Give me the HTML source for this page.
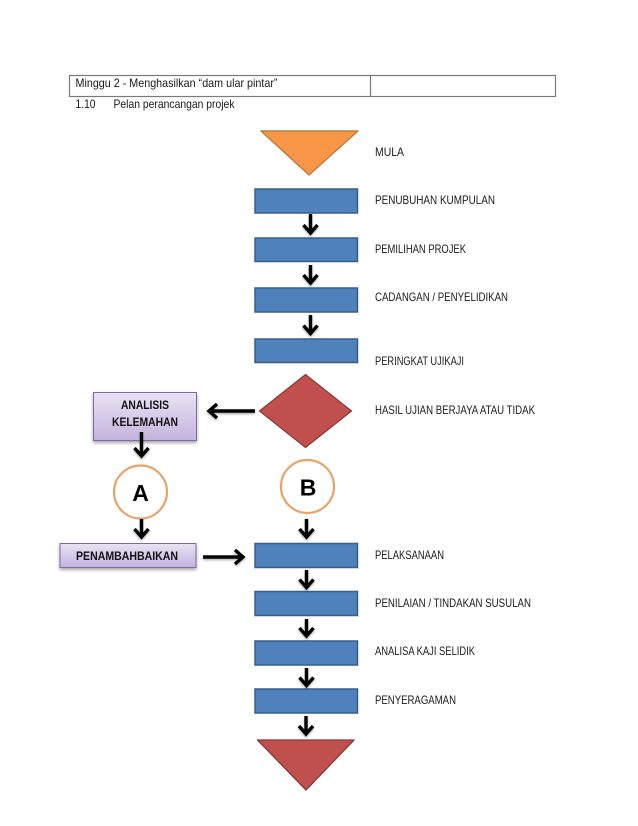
<!DOCTYPE html>
<html>
<head>
<meta charset="utf-8">
<style>
html,body{margin:0;padding:0;background:#fff;}
svg{display:block;}
text{font-family:"Liberation Sans",sans-serif;fill:#1a1a1a;}
.l{font-size:11.8px;}
.b{font-weight:bold;font-size:12px;fill:#111;}
.box{fill:#4f81bd;stroke:#385d8a;stroke-width:1.5;}
.p{fill:url(#pg);stroke:#7f69a5;stroke-width:1;filter:url(#sh);}
.c{fill:#fff;stroke:#e8a468;stroke-width:2.2;}
.a{fill:none;stroke:#000;stroke-width:3.4;filter:url(#sh2);}
</style>
</head>
<body>
<svg width="638" height="826" viewBox="0 0 638 826" xmlns="http://www.w3.org/2000/svg">
<defs>
<linearGradient id="pg" x1="0" y1="0" x2="0" y2="1">
<stop offset="0" stop-color="#e9e3f3"/>
<stop offset="1" stop-color="#c3b3de"/>
</linearGradient>
<filter id="sh" x="-10%" y="-20%" width="120%" height="150%">
<feDropShadow dx="0" dy="2" stdDeviation="1.5" flood-color="#000" flood-opacity="0.35"/>
</filter>
<filter id="sh2" x="-50%" y="-50%" width="200%" height="200%">
<feDropShadow dx="0" dy="1.5" stdDeviation="1" flood-color="#000" flood-opacity="0.3"/>
</filter>
</defs>
<rect width="638" height="826" fill="#fff"/>

<!-- header table -->
<rect x="69.5" y="75.5" width="486" height="21" fill="#fff" stroke="#7a7a7a" stroke-width="1.2"/>
<line x1="370.5" y1="75.5" x2="370.5" y2="96.5" stroke="#7a7a7a" stroke-width="1.2"/>
<text x="75.5" y="87" class="l" textLength="202" lengthAdjust="spacingAndGlyphs">Minggu 2 - Menghasilkan “dam ular pintar”</text>
<text x="75.5" y="108" class="l" textLength="20" lengthAdjust="spacingAndGlyphs">1.10</text>
<text x="113.5" y="108" class="l" textLength="121" lengthAdjust="spacingAndGlyphs">Pelan perancangan projek</text>

<!-- main shapes -->
<polygon points="261,131 358,131 309,175" fill="#f79646" stroke="#b9803f" stroke-width="1.5" stroke-linejoin="round"/>
<rect class="box" x="255" y="189" width="102.5" height="24"/>
<rect class="box" x="255" y="238" width="102.5" height="23.5"/>
<rect class="box" x="255" y="288" width="102.5" height="24"/>
<rect class="box" x="255" y="339" width="102.5" height="23.5"/>
<polygon points="259.5,411 305.5,374.5 351.5,411 305.5,447.5" fill="#c0504d" stroke="#8c3836" stroke-width="1.2"/>
<rect class="box" x="255" y="543.5" width="102.5" height="24"/>
<rect class="box" x="255" y="591.5" width="102.5" height="24"/>
<rect class="box" x="255" y="641" width="102.5" height="24"/>
<rect class="box" x="255" y="689" width="102.5" height="24"/>
<polygon points="257.5,740 354,740 306,790" fill="#c0504d" stroke="#8c3836" stroke-width="1.3" stroke-linejoin="round"/>

<!-- purple boxes -->
<rect class="p" x="93.5" y="392.5" width="103" height="48"/>
<rect class="p" x="60" y="543.5" width="136" height="24"/>
<text x="145" y="409" class="b" text-anchor="middle" textLength="48" lengthAdjust="spacingAndGlyphs">ANALISIS</text>
<text x="145" y="426" class="b" text-anchor="middle" textLength="66" lengthAdjust="spacingAndGlyphs">KELEMAHAN</text>
<text x="127" y="560" class="b" text-anchor="middle" textLength="102" lengthAdjust="spacingAndGlyphs">PENAMBAHBAIKAN</text>

<!-- circles -->
<circle class="c" cx="140.5" cy="492" r="26.5"/>
<circle class="c" cx="307.5" cy="486.5" r="26.5"/>
<text x="140.500" y="501" font-size="23" style="font-weight:bold;fill:#000" text-anchor="middle">A</text>
<text x="308" y="495.500" font-size="23" style="font-weight:bold;fill:#000" text-anchor="middle">B</text>

<!-- arrows -->
<path class="a" d="M310.500 214V233M303.500 225l7 8 7-8"/>
<path class="a" d="M310.500 265V283M303.500 275l7 8 7-8"/>
<path class="a" d="M310.500 315V333.500M303.500 325.500l7 8 7-8"/>
<path class="a" d="M255 411H209M217 404l-8 7 8 7"/>
<path class="a" d="M141.500 432V456M134.500 448l7 8 7-8"/>
<path class="a" d="M141.500 519V537M134.500 529l7 8 7-8"/>
<path class="a" d="M306.500 519V537M299.500 529l7 8 7-8"/>
<path class="a" d="M203 557H243M235 550l8 7-8 7"/>
<path class="a" d="M306.500 570V587.500M299.500 579.500l7 8 7-8"/>
<path class="a" d="M306.500 619V636M299.500 628l7 8 7-8"/>
<path class="a" d="M306.500 668V685.500M299.500 677.500l7 8 7-8"/>
<path class="a" d="M306 716V734M299 726l7 8 7-8"/>

<!-- labels -->
<text x="375" y="156" class="l" textLength="29" lengthAdjust="spacingAndGlyphs">MULA</text>
<text x="375" y="204" class="l" textLength="120" lengthAdjust="spacingAndGlyphs">PENUBUHAN KUMPULAN</text>
<text x="375" y="253" class="l" textLength="91" lengthAdjust="spacingAndGlyphs">PEMILIHAN PROJEK</text>
<text x="375" y="301" class="l" textLength="133" lengthAdjust="spacingAndGlyphs">CADANGAN / PENYELIDIKAN</text>
<text x="375" y="365" class="l" textLength="89" lengthAdjust="spacingAndGlyphs">PERINGKAT UJIKAJI</text>
<text x="375" y="414" class="l" textLength="160" lengthAdjust="spacingAndGlyphs">HASIL UJIAN BERJAYA ATAU TIDAK</text>
<text x="375" y="559" class="l" textLength="69" lengthAdjust="spacingAndGlyphs">PELAKSANAAN</text>
<text x="375" y="607" class="l" textLength="156" lengthAdjust="spacingAndGlyphs">PENILAIAN / TINDAKAN SUSULAN</text>
<text x="375" y="655" class="l" textLength="100" lengthAdjust="spacingAndGlyphs">ANALISA KAJI SELIDIK</text>
<text x="375" y="704" class="l" textLength="81" lengthAdjust="spacingAndGlyphs">PENYERAGAMAN</text>
</svg>
</body>
</html>
